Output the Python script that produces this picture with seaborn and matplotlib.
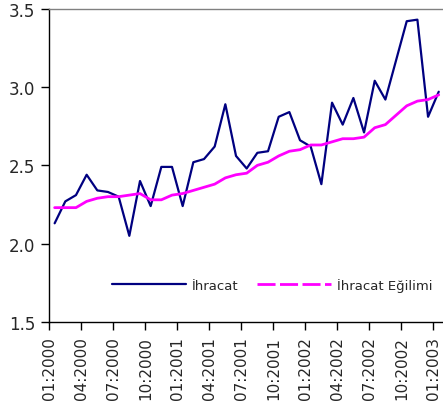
import matplotlib
matplotlib.use("Agg")
import matplotlib.pyplot as plt
from matplotlib.lines import Line2D
import pandas as pd
import seaborn as sns

# monthly values 01:2000 .. 01:2003
months = list(range(37))
ihracat = [2.13, 2.27, 2.31, 2.44, 2.34, 2.33, 2.30, 2.05, 2.40, 2.24,
           2.49, 2.49, 2.24, 2.52, 2.54, 2.62, 2.89, 2.56, 2.48, 2.58,
           2.59, 2.81, 2.84, 2.66, 2.62, 2.38, 2.90, 2.76, 2.93, 2.71,
           3.04, 2.92, 3.17, 3.42, 3.43, 2.81, 2.97]
egilim = [2.23, 2.23, 2.23, 2.27, 2.29, 2.30, 2.30, 2.31, 2.32, 2.28,
          2.28, 2.31, 2.32, 2.34, 2.36, 2.38, 2.42, 2.44, 2.45, 2.50,
          2.52, 2.56, 2.59, 2.60, 2.63, 2.63, 2.65, 2.67, 2.67, 2.68,
          2.74, 2.76, 2.82, 2.88, 2.91, 2.92, 2.95]
tick_labels = ["01:2000", "04:2000", "07:2000", "10:2000", "01:2001",
               "04:2001", "07:2001", "10:2001", "01:2002", "04:2002",
               "07:2002", "10:2002", "01:2003"]

df = pd.DataFrame({"ay": months, "ihracat": ihracat, "egilim": egilim})

sns.set_style("white")
plt.rcParams["font.family"] = ["DejaVu Sans"]

fig = plt.figure(figsize=(4.43, 4.14), dpi=100)
ax = fig.add_axes([0.1113, 0.2198, 0.8887, 0.7568])

sns.lineplot(data=df, x="ay", y="ihracat", color="#000080", linewidth=1.6, ax=ax)
sns.lineplot(data=df, x="ay", y="egilim", color="#ff00ff", linewidth=2.0, ax=ax)

ax.set_xlim(-0.5, 36.4)
ax.set_ylim(1.5, 3.5)
ax.set_yticks([1.5, 2.0, 2.5, 3.0, 3.5])
ax.set_yticklabels(["1.5", "2.0", "2.5", "3.0", "3.5"], fontsize=12)
ax.set_xticks([3 * k - 0.5 for k in range(13)])
ax.set_xticklabels(tick_labels, rotation=90, fontsize=11)
ax.tick_params(axis="both", direction="out", length=6, width=1, color="black",
               left=True, bottom=True, pad=4)
ax.set_xlabel("")
ax.set_ylabel("")

for side in ["left", "bottom"]:
    ax.spines[side].set_color("black")
    ax.spines[side].set_linewidth(1)
ax.spines["top"].set_color("#808080")
ax.spines["top"].set_linewidth(1)
ax.spines["right"].set_visible(False)

handles = [Line2D([], [], color="#000080", linewidth=1.6),
           Line2D([], [], color="#ff00ff", linewidth=2.0, linestyle=(0, (6.5, 1.6)))]
ax.legend(handles, ["İhracat", "İhracat Eğilimi"], loc="center",
          bbox_to_anchor=(0.566, 0.118), ncol=2, frameon=False, fontsize=9.5,
          handlelength=5.6, handletextpad=0.45, columnspacing=1.4,
          borderpad=0.2)

fig.savefig("out.png", dpi=100)
